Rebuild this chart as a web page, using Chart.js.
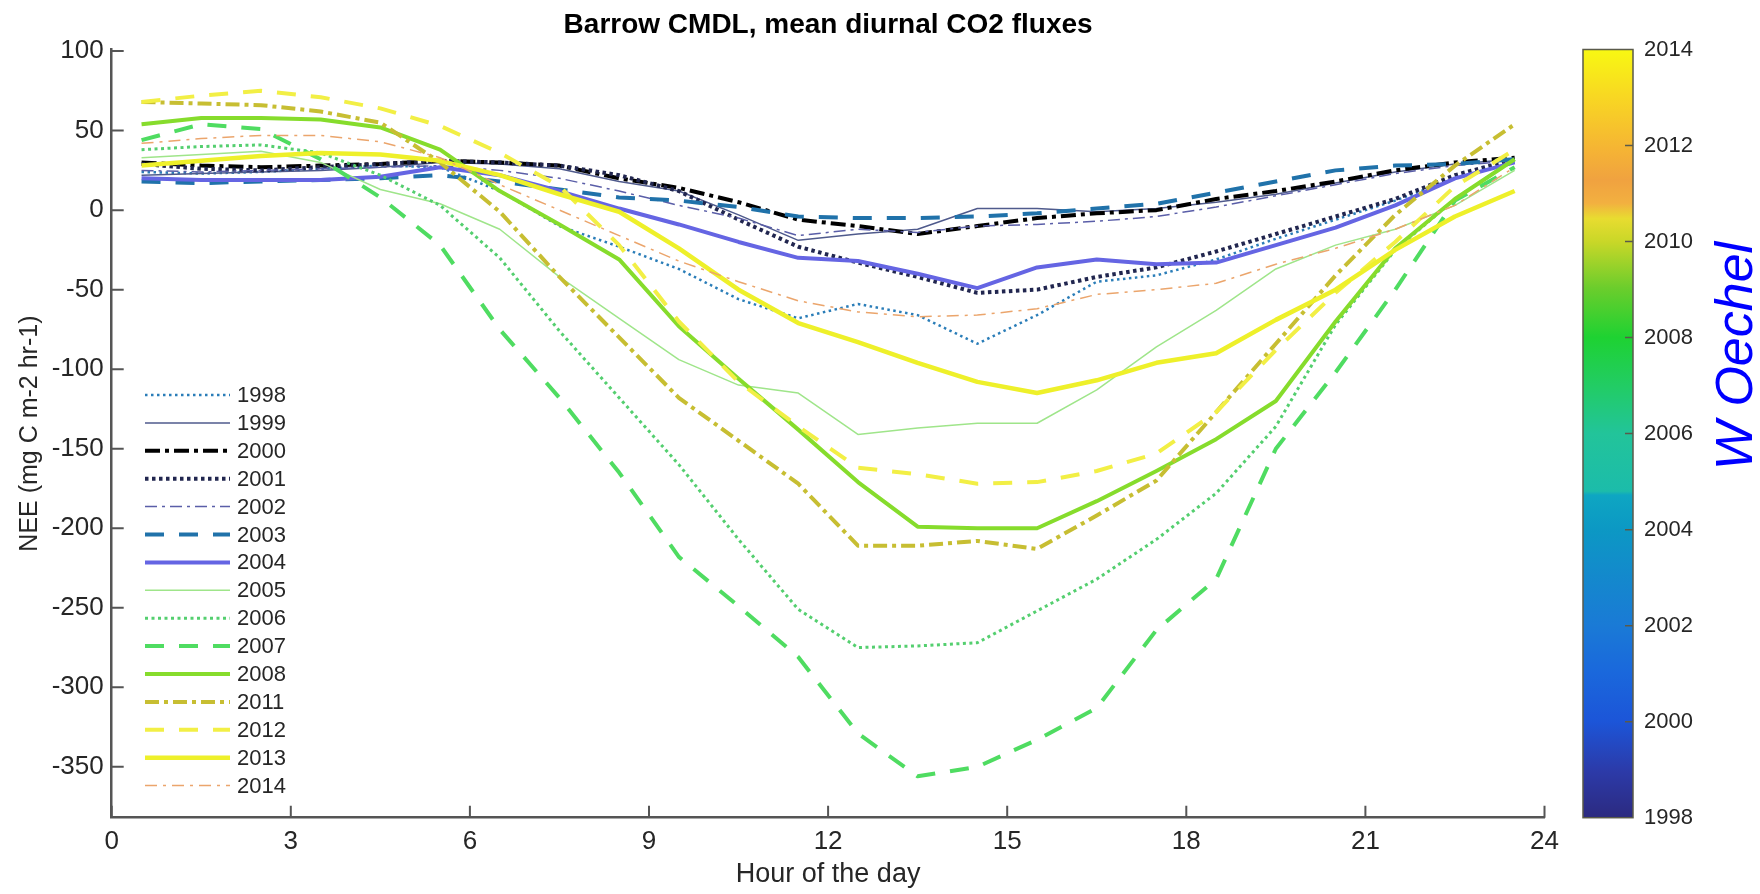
<!DOCTYPE html>
<html>
<head>
<meta charset="utf-8">
<title>Barrow CMDL, mean diurnal CO2 fluxes</title>
<script src="https://cdn.jsdelivr.net/npm/chart.js@4.4.1/dist/chart.umd.min.js"></script>
<style>
    html, body { margin: 0; padding: 0; background: #fff; }
    #wrap { position: relative; width: 1760px; height: 894px; }
</style>
</head>
<body>
<div id="wrap"><canvas id="chartNEE"></canvas></div>
<script>
// --- DATA ---
const hours = [0.5, 1.5, 2.5, 3.5, 4.5, 5.5, 6.5, 7.5, 8.5, 9.5, 10.5, 11.5,
               12.5, 13.5, 14.5, 15.5, 16.5, 17.5, 18.5, 19.5, 20.5, 21.5, 22.5, 23.5];
const xTicks = [0, 3, 6, 9, 12, 15, 18, 21, 24];
const yTicks = [100, 50, 0, -50, -100, -150, -200, -250, -300, -350];
const colorbarYears = [1998, 2000, 2002, 2004, 2006, 2008, 2010, 2012, 2014];
const years = ['1998', '1999', '2000', '2001', '2002', '2003', '2004', '2005',
               '2006', '2007', '2008', '2011', '2012', '2013', '2014'];

// NEE (mg C m-2 hr-1), hourly means
const nee1998 = [24, 23, 24, 26, 28, 27, 12, -10, -23, -37, -56, -68, -59, -66, -84, -66, -45, -41, -31, -18, -6, 6, 20, 30];
const nee1999 = [22, 23, 24, 25, 27, 30, 29, 26, 18, 12, -3, -19, -15, -12, 1, 1, -1, 1, 5, 10, 17, 24, 29, 32];
const nee2000 = [30, 28, 27, 28, 29, 31, 30, 28, 20, 14, 5, -6, -10, -15, -10, -5, -2, 0, 7, 12, 18, 25, 30, 33];
const nee2001 = [29, 26, 25, 27, 29, 31, 30, 28, 22, 12, -6, -23, -33, -42, -52, -50, -42, -36, -26, -15, -4, 7, 22, 32];
const nee2002 = [25, 24, 25, 26, 27, 28, 25, 20, 12, 3, -5, -16, -12, -14, -10, -9, -7, -4, 2, 9, 16, 23, 28, 31];
const nee2003 = [18, 17, 18, 19, 20, 22, 18, 13, 8, 6, 2, -4, -5, -5, -4, -2, 1, 4, 11, 18, 25, 28, 29, 32];
const nee2004 = [20, 19, 19, 19, 21, 27, 22, 12, 1, -9, -20, -30, -32, -40, -49, -36, -31, -34, -33, -22, -11, 3, 20, 30];
const nee2005 = [33, 35, 37, 30, 13, 4, -12, -42, -68, -94, -110, -115, -141, -137, -134, -134, -113, -86, -63, -37, -22, -12, 3, 25];
const nee2006 = [38, 40, 41, 36, 22, 3, -30, -76, -118, -160, -207, -251, -275, -274, -272, -252, -232, -207, -178, -136, -72, -25, 7, 32];
const nee2007 = [44, 54, 51, 32, 8, -22, -75, -118, -165, -218, -249, -281, -329, -356, -350, -333, -313, -264, -232, -150, -102, -50, 6, 27];
const nee2008 = [54, 58, 58, 57, 52, 38, 12, -9, -31, -73, -106, -138, -171, -199, -200, -200, -183, -164, -144, -120, -70, -24, 7, 32];
const nee2011 = [68, 67, 66, 62, 55, 30, -1, -42, -80, -118, -145, -172, -211, -211, -208, -213, -192, -170, -127, -84, -41, -3, 28, 54];
const nee2012 = [68, 72, 75, 71, 64, 53, 36, 15, -22, -70, -108, -136, -162, -166, -172, -171, -164, -153, -127, -88, -52, -20, 15, 38];
const nee2013 = [28, 31, 34, 36, 35, 31, 22, 10, -1, -24, -50, -71, -83, -96, -108, -115, -107, -96, -90, -69, -50, -25, -4, 12];
const nee2014 = [42, 45, 47, 47, 43, 33, 16, 0, -16, -32, -45, -57, -64, -67, -66, -62, -53, -50, -46, -34, -24, -12, 3, 27];

const series = [nee1998, nee1999, nee2000, nee2001, nee2002, nee2003, nee2004, nee2005,
                nee2006, nee2007, nee2008, nee2011, nee2012, nee2013, nee2014];

// --- ESTILOS ---
const lineStyles = {
    '1998': { color: '#2a7db8', width: 2.5, dash: [2.5, 3.5] },
    '1999': { color: '#4f5a8c', width: 1.5, dash: [] },
    '2000': { color: '#000000', width: 4, dash: [15, 5, 4, 5] },
    '2001': { color: '#21264f', width: 4, dash: [3.5, 3.5] },
    '2002': { color: '#5a5ea8', width: 1.5, dash: [12, 5, 3, 5] },
    '2003': { color: '#2072aa', width: 4, dash: [19, 15] },
    '2004': { color: '#6565e3', width: 4, dash: [] },
    '2005': { color: '#9fe58a', width: 1.5, dash: [] },
    '2006': { color: '#54cf6f', width: 3, dash: [3, 3.5] },
    '2007': { color: '#4fdc61', width: 4, dash: [19, 15] },
    '2008': { color: '#86dc2c', width: 4, dash: [] },
    '2011': { color: '#c7be32', width: 4, dash: [14, 5, 4, 5] },
    '2012': { color: '#f2ef45', width: 4, dash: [19, 15] },
    '2013': { color: '#eef02a', width: 4.5, dash: [] },
    '2014': { color: '#eba56c', width: 1.5, dash: [12, 6, 3, 6] }
};

// parula-ish colormap of the colour bar (bottom -> top)
const colorbarStops = [
    [0.00, '#2c2a80'], [0.06, '#2c3aa8'], [0.125, '#1c55d8'], [0.19, '#1a68dc'],
    [0.25, '#1a7ad6'], [0.31, '#1488cd'], [0.375, '#0c98c4'], [0.42, '#0ea6c2'],
    [0.425, '#1cbcaa'], [0.5, '#22c49a'], [0.56, '#22cc66'], [0.625, '#1ed232'],
    [0.69, '#6ccd2c'], [0.75, '#c9d728'], [0.78, '#e8dc30'], [0.80, '#f2b040'],
    [0.83, '#f0a240'], [0.87, '#f5b434'], [0.94, '#f8d822'], [1.00, '#f8f812']
];

const baseFont = "'Liberation Sans', Arial, sans-serif";

// --- PLUGINS ---
// MATLAB style tick marks pointing into the axes
const insideTicks = {
    id: 'insideTicks',
    afterDatasetsDraw(chart) {
        const { ctx, chartArea: a, scales: { x, y } } = chart;
        ctx.save();
        ctx.strokeStyle = '#555';
        ctx.lineWidth = 2;
        ctx.beginPath();
        yTicks.forEach(v => {
            const py = y.getPixelForValue(v);
            ctx.moveTo(a.left, py);
            ctx.lineTo(a.left + 12, py);
        });
        xTicks.forEach(v => {
            const px = x.getPixelForValue(v);
            ctx.moveTo(px, a.bottom);
            ctx.lineTo(px, a.bottom - 12);
        });
        ctx.stroke();
        ctx.restore();
    }
};

// legend in the lower left corner of the axes
const yearLegend = {
    id: 'yearLegend',
    afterDatasetsDraw(chart) {
        const ctx = chart.ctx;
        ctx.save();
        chart.data.datasets.forEach((ds, i) => {
            const yy = 395 + i * 27.9;
            ctx.beginPath();
            ctx.setLineDash(ds.borderDash);
            ctx.lineWidth = ds.borderWidth;
            ctx.strokeStyle = ds.borderColor;
            ctx.moveTo(145, yy);
            ctx.lineTo(230, yy);
            ctx.stroke();
            ctx.setLineDash([]);
            ctx.fillStyle = '#262626';
            ctx.font = '22px ' + baseFont;
            ctx.textBaseline = 'middle';
            ctx.textAlign = 'left';
            ctx.fillText(ds.label, 237, yy + 1);
        });
        ctx.restore();
    }
};

// colour bar + signature
const colorBar = {
    id: 'colorBar',
    afterDraw(chart) {
        const ctx = chart.ctx;
        const left = 1583, right = 1633, top = chart.chartArea.top, bottom = chart.chartArea.bottom;
        const first = colorbarYears[0], last = colorbarYears[colorbarYears.length - 1];
        const toY = yr => bottom - (yr - first) / (last - first) * (bottom - top);
        ctx.save();
        const grad = ctx.createLinearGradient(0, bottom, 0, top);
        colorbarStops.forEach(([p, c]) => grad.addColorStop(p, c));
        ctx.fillStyle = grad;
        ctx.fillRect(left, top, right - left, bottom - top);
        ctx.strokeStyle = '#5a5a4a';
        ctx.lineWidth = 1.5;
        ctx.strokeRect(left, top, right - left, bottom - top);
        ctx.beginPath();
        colorbarYears.slice(1, -1).forEach(yr => {
            ctx.moveTo(right, toY(yr));
            ctx.lineTo(right - 8, toY(yr));
        });
        ctx.stroke();
        ctx.fillStyle = '#262626';
        ctx.font = '22px ' + baseFont;
        ctx.textAlign = 'left';
        ctx.textBaseline = 'middle';
        colorbarYears.forEach(yr => ctx.fillText(String(yr), 1644, toY(yr)));

        ctx.translate(1738, 356);
        ctx.rotate(-Math.PI / 2);
        ctx.fillStyle = '#0000ff';
        ctx.font = 'italic 52px ' + baseFont;
        ctx.textAlign = 'center';
        ctx.textBaseline = 'middle';
        ctx.fillText('W Oechel', 0, 0);
        ctx.restore();
    }
};

// --- GRÁFICO ---
const datasets = years.map((yr, i) => ({
    label: yr,
    data: hours.map((h, k) => ({ x: h, y: series[i][k] })),
    borderColor: lineStyles[yr].color,
    backgroundColor: lineStyles[yr].color,
    borderWidth: lineStyles[yr].width,
    borderDash: lineStyles[yr].dash,
    borderCapStyle: 'butt',
    borderJoinStyle: 'round',
    pointRadius: 0,
    tension: 0,
    fill: false,
    order: years.length - i
}));

new Chart(document.getElementById('chartNEE'), {
    type: 'line',
    data: { datasets },
    options: {
        responsive: true,
        maintainAspectRatio: false,
        devicePixelRatio: 1,
        animation: false,
        layout: { padding: { left: 0, right: 215.5, top: 0, bottom: 0 } },
        plugins: {
            legend: { display: false },
            tooltip: { enabled: false },
            title: {
                display: true,
                fullSize: false,
                text: 'Barrow CMDL, mean diurnal CO2 fluxes',
                color: '#000',
                font: { family: baseFont, size: 28, weight: 'bold', lineHeight: 1.2 },
                padding: { top: 8.2, bottom: 7.7 }
            }
        },
        scales: {
            x: {
                type: 'linear',
                min: 0,
                max: 24,
                afterBuildTicks: s => { s.ticks = xTicks.map(v => ({ value: v })); },
                afterFit: s => { s.height = 76.3; },
                grid: { display: false, drawTicks: false },
                border: { display: true, color: '#555', width: 2.5 },
                ticks: { color: '#262626', font: { family: baseFont, size: 26 }, padding: 9, maxRotation: 0, autoSkip: false },
                title: {
                    display: true,
                    text: 'Hour of the day',
                    color: '#262626',
                    font: { family: baseFont, size: 27, lineHeight: 1.2 },
                    padding: { top: 0, bottom: 3 }
                }
            },
            y: {
                type: 'linear',
                min: -382,
                max: 101,
                afterBuildTicks: s => { s.ticks = yTicks.map(v => ({ value: v })); },
                afterFit: s => { s.width = 111.7; },
                grid: { display: false, drawTicks: false },
                border: { display: true, color: '#555', width: 2.5 },
                ticks: { color: '#262626', font: { family: baseFont, size: 26 }, padding: 8 },
                title: {
                    display: true,
                    text: 'NEE (mg C m-2 hr-1)',
                    color: '#262626',
                    font: { family: baseFont, size: 25, lineHeight: 1.2 },
                    padding: { top: 15, bottom: 0 }
                }
            }
        }
    },
    plugins: [insideTicks, yearLegend, colorBar]
});
</script>
</body>
</html>
